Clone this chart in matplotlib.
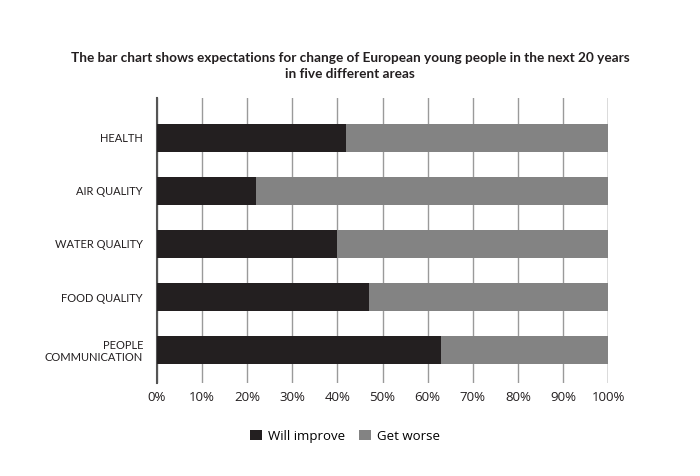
import matplotlib
matplotlib.use("Agg")
import matplotlib.pyplot as plt
import numpy as np

plt.rcParams['font.family'] = ['Lato', 'DejaVu Sans']

# data
areas = ['HEALTH', 'AIR QUALITY', 'WATER QUALITY', 'FOOD QUALITY', 'PEOPLE\nCOMMUNICATION']
will_improve = [42, 22, 40, 47, 63]
get_worse = [58, 78, 60, 53, 37]
x_ticks = [0, 10, 20, 30, 40, 50, 60, 70, 80, 90, 100]

fig = plt.figure(figsize=(7, 4.76), dpi=100)
ax = fig.add_axes([0.2243, 0.1954, 0.6443, 0.5986])

y = np.arange(len(areas))
ax.barh(y, will_improve, height=0.52, color='#231f20', label='Will improve', zorder=3)
ax.barh(y, get_worse, left=will_improve, height=0.52, color='#838383', label='Get worse', zorder=3)

ax.set_xlim(0, 100)
ax.set_ylim(4.62, -0.75)
ax.set_xticks(x_ticks)
ax.set_xticklabels([f'{t}%' for t in x_ticks], fontsize=9.5, color='#231f20',
                   family=['Open Sans', 'DejaVu Sans'])
ax.set_yticks(y)
ax.set_yticklabels(areas, fontsize=8, color='#231f20', linespacing=1.1)
ax.tick_params(axis='both', length=0, pad=6)
ax.tick_params(axis='y', pad=10)

ax.grid(axis='x', color='#9a9a9a', linewidth=1, zorder=0)
ax.axvline(100, color='#9a9a9a', linewidth=1, zorder=0)
for s in ['top', 'right', 'bottom']:
    ax.spines[s].set_visible(False)
ax.spines['left'].set_color('#555555')
ax.spines['left'].set_linewidth(1.5)

fig.text(0.5, 0.861, 'The bar chart shows expectations for change of European young people in the next 20 years\nin five different areas',
         ha='center', va='center', fontsize=9.8, fontweight='bold', color='#231f20', linespacing=1.35)

fig.legend(loc='center', bbox_to_anchor=(0.493, 0.084), ncol=2, frameon=False,
           prop={'family': ['Open Sans', 'DejaVu Sans'], 'size': 9.5},
           handlelength=0.9, handleheight=0.9, handletextpad=0.5, columnspacing=1.0)

fig.savefig('out.png', dpi=100)
